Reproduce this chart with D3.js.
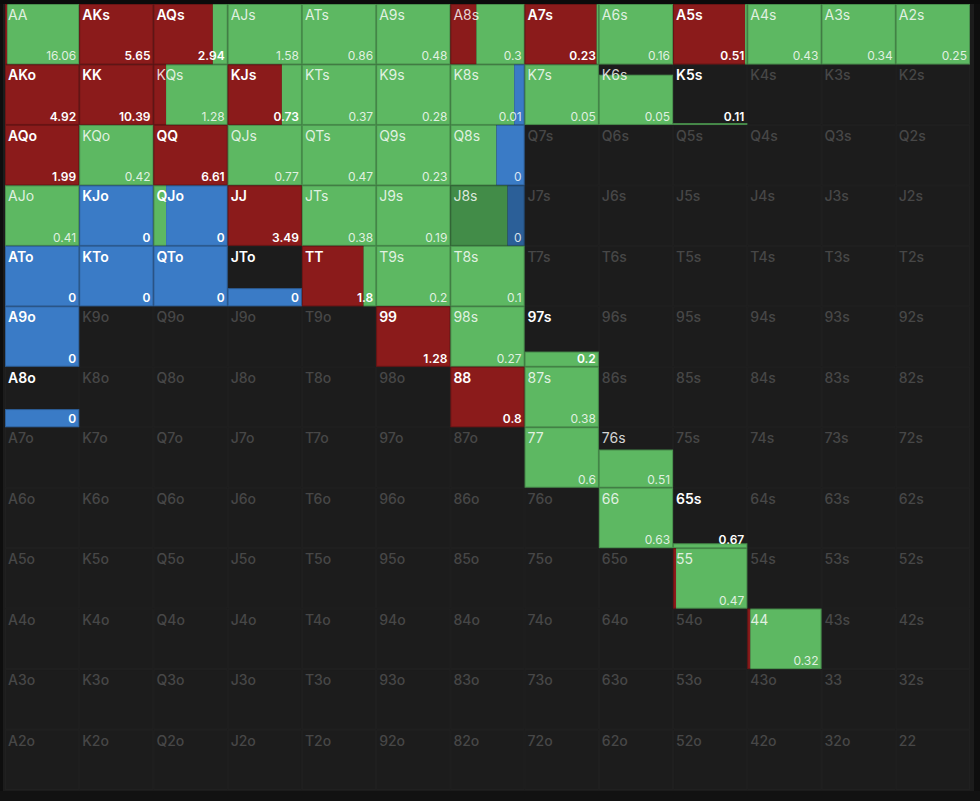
<!DOCTYPE html>
<html>
<head>
<meta charset="utf-8">
<script src="https://cdn.jsdelivr.net/npm/d3@7/dist/d3.min.js"></script>
<style>
  html, body { margin: 0; padding: 0; background: #0e0e0e; }
  svg { display: block; }
</style>
</head>
<body>
<svg id="chart" width="980" height="801"></svg>
<script>
const ranks = ['A','K','Q','J','T','9','8','7','6','5','4','3','2'];

// hands in range and their data
const hands      = ['AA','AKs','AQs','AJs','ATs','A9s','A8s','A7s','A6s','A5s','A4s','A3s','A2s',
                    'AKo','KK','KQs','KJs','KTs','K9s','K8s','K7s','K6s','K5s',
                    'AQo','KQo','QQ','QJs','QTs','Q9s','Q8s',
                    'AJo','KJo','QJo','JJ','JTs','J9s','J8s',
                    'ATo','KTo','QTo','JTo','TT','T9s','T8s',
                    'A9o','99','98s','97s',
                    'A8o','88','87s',
                    '77','76s',
                    '66','65s',
                    '55','44'];
const weights    = [1,1,1,1,1,1,1,1,1,1,1,1,1,
                    1,1,1,1,1,1,1,1,0.83,0.03,
                    1,1,1,1,1,1,1,
                    1,1,1,1,1,1,1,
                    1,1,1,0.3,1,1,1,
                    1,1,1,0.25,
                    0.3,1,1,
                    1,0.63,
                    1,0.08,
                    1,1];
const raiseFreq  = [0.03,1,0.8,0,0,0,0.35,0.97,0,0.97,0,0,0,
                    1,1,0.17,0.73,0,0,0,0,0,0,
                    1,0,1,0,0,0,0,
                    0,0,0,1,0,0,0,
                    0,0,0,0,0.83,0,0,
                    0,1,0,0,
                    0,1,0,
                    0,0,
                    0,0,
                    0.04,0.04];
const callFreq   = [0.97,0,0.2,1,1,1,0.65,0.03,1,0.03,1,1,1,
                    0,0,0.83,0.27,1,1,0.86,1,1,1,
                    0,1,0,1,1,1,0.62,
                    1,0,0.17,0,1,1,0.77,
                    0,0,0,0,0.17,1,1,
                    0,0,1,1,
                    0,0,1,
                    1,1,
                    1,1,
                    0.96,0.96];
const foldFreq   = [0,0,0,0,0,0,0,0,0,0,0,0,0,
                    0,0,0,0,0,0,0.14,0,0,0,
                    0,0,0,0,0,0,0.38,
                    0,1,0.83,0,0,0,0.23,
                    1,1,1,1,0,0,0,
                    1,0,0,0,
                    1,0,0,
                    0,0,
                    0,0,
                    0,0];
const evValues   = [16.06,5.65,2.94,1.58,0.86,0.48,0.3,0.23,0.16,0.51,0.43,0.34,0.25,
                    4.92,10.39,1.28,0.73,0.37,0.28,0.01,0.05,0.05,0.11,
                    1.99,0.42,6.61,0.77,0.47,0.23,0,
                    0.41,0,0,3.49,0.38,0.19,0,
                    0,0,0,0,1.8,0.2,0.1,
                    0,1.28,0.27,0.2,
                    0,0.8,0.38,
                    0.6,0.51,
                    0.63,0.67,
                    0.47,0.32];
const hoveredHand = 'J8s';

const actions = ['raise','call','fold'];
const colors = {raise:'#8b1b1b', call:'#5db862', fold:'#3a7bc6'};
const hoverColors = {raise:'#6e1515', call:'#428c48', fold:'#2b5f98'};

const byHand = new Map(hands.map((h,i)=>[h,{weight:weights[i],raise:raiseFreq[i],call:callFreq[i],fold:foldFreq[i],ev:evValues[i]}]));

function handName(r,c){
  if (r===c) return ranks[r]+ranks[c];
  if (c>r) return ranks[r]+ranks[c]+'s';
  return ranks[c]+ranks[r]+'o';
}

const cells = [];
for (let r=0;r<13;r++) for (let c=0;c<13;c++){
  const name = handName(r,c);
  cells.push({r,c,name,data:byHand.get(name)});
}

const svg = d3.select('#chart');
const x = d3.scaleBand().domain(d3.range(13)).range([5,970]).padding(0);
const y = d3.scaleBand().domain(d3.range(13)).range([4,790]).padding(0);
const cw = x.bandwidth(), ch = y.bandwidth();
const hScale = d3.scaleLinear().domain([0,1]).range([0,ch]);
const wScale = d3.scaleLinear().domain([0,1]).range([0,cw]);

// panel background
svg.append('rect').attr('x',3).attr('y',3).attr('width',971).attr('height',791).attr('fill','#1c1c1c');
svg.append('rect').attr('x',0).attr('y',0).attr('width',980).attr('height',4).attr('fill','#0b0b0b');
svg.append('rect').attr('x',0).attr('y',791).attr('width',980).attr('height',10).attr('fill','#121212');

// faint grid
const grid = svg.append('g');
grid.selectAll('rect').data(cells).join('rect')
  .attr('x',d=>x(d.c)+0.5).attr('y',d=>y(d.r)+0.5)
  .attr('width',cw-1).attr('height',ch-1)
  .attr('fill','none').attr('stroke','#202020').attr('stroke-width',1);

const g = svg.append('g');
const cellG = g.selectAll('g.cell').data(cells).join('g').attr('class','cell')
  .attr('transform',d=>`translate(${x(d.c)},${y(d.r)})`);

// action segments
cellG.filter(d=>d.data).each(function(d){
  const sel = d3.select(this);
  const h = hScale(d.data.weight);
  let acc = 0;
  const segs = actions.map(a=>{const s={a,x0:acc,v:d.data[a]}; acc+=d.data[a]; return s;}).filter(s=>s.v>0);
  const pal = d.name===hoveredHand ? hoverColors : colors;
  sel.selectAll('rect.seg').data(segs).join('rect').attr('class','seg')
    .attr('x',s=>wScale(s.x0)).attr('y',ch-h)
    .attr('width',s=>wScale(s.v)).attr('height',h)
    .attr('fill',s=>pal[s.a]);
  sel.append('rect').attr('x',0.5).attr('y',ch-h+0.5).attr('width',cw-1).attr('height',Math.max(h-1,0))
    .attr('fill','none').attr('stroke','rgba(0,0,0,0.22)').attr('stroke-width',1);
});

function isLight(d){
  return d.data && d.data.weight>0.5 && d.data.call>=0.5 && d.data.raise<0.5;
}

// hand labels
cellG.append('text')
  .attr('x',3).attr('y',16)
  .attr('font-family','Inter, "Open Sans", sans-serif')
  .attr('font-size',14)
  .attr('font-weight',d=>d.data ? (isLight(d)?400:600) : 500)
  .attr('fill',d=>d.data ? (isLight(d)?'rgba(255,255,255,0.82)':'#ffffff') : '#474747')
  .text(d=>d.name);

// values
cellG.filter(d=>d.data).append('text')
  .attr('x',cw-3).attr('y',ch-4)
  .attr('text-anchor','end')
  .attr('font-family','Inter, "Open Sans", sans-serif')
  .attr('font-size',12)
  .attr('font-weight',d=>isLight(d)?400:600)
  .attr('fill',d=>isLight(d)?'rgba(255,255,255,0.82)':'#ffffff')
  .text(d=>String(d.data.ev));
</script>
</body>
</html>
